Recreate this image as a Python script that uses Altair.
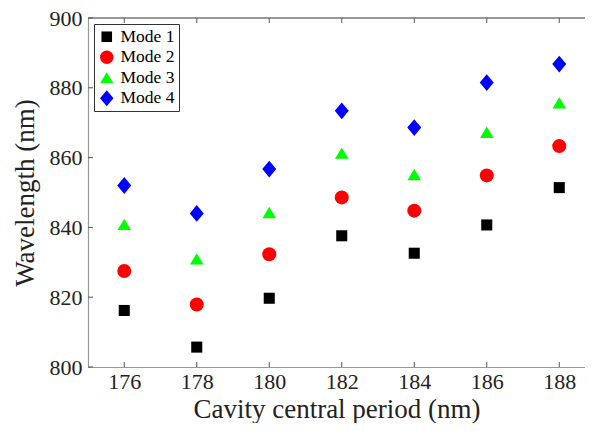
import altair as alt
import pandas as pd

periods = [176, 178, 180, 182, 184, 186, 188]
mode1 = [816.2, 805.7, 819.7, 837.6, 832.6, 840.7, 851.4]
mode2 = [827.5, 817.9, 832.3, 848.6, 844.8, 854.9, 863.3]
mode3 = [840.8, 830.9, 844.2, 861.2, 855.1, 867.2, 875.6]
mode4 = [852.0, 844.0, 856.7, 873.4, 868.6, 881.5, 886.8]
modes = ["Mode 1", "Mode 2", "Mode 3", "Mode 4"]
colors = ["#000000", "#ff0000", "#00ff00", "#0000ff"]
shapes = [
    "M-0.79,-0.79L0.79,-0.79L0.79,0.79L-0.79,0.79Z",
    "circle",
    "M0,-0.85L0.97,0.78L-0.97,0.78Z",
    "M0,-1.2L1,0L0,1.2L-1,0Z",
]
x_ticks = [176, 178, 180, 182, 184, 186, 188]
y_ticks = [800, 820, 840, 860, 880, 900]

rows = []
for name, vals in zip(modes, [mode1, mode2, mode3, mode4]):
    for p, v in zip(periods, vals):
        rows.append({"period": p, "wavelength": v, "mode": name})
df = pd.DataFrame(rows)

W, H = 497, 349
FONT = "Liberation Serif"
xscale = alt.Scale(domain=[175, 188.71], nice=False, zero=False)
yscale = alt.Scale(domain=[800, 900], nice=False, zero=False)

points = alt.Chart(df).mark_point(filled=True, size=196, opacity=1, strokeWidth=0).encode(
    x=alt.X("period:Q", scale=xscale,
            axis=alt.Axis(values=x_ticks, title="Cavity central period (nm)", grid=False,
                          tickSize=0, labelPadding=4, format="d",
                          titleBaseline="alphabetic", titleY=50)),
    y=alt.Y("wavelength:Q", scale=yscale,
            axis=alt.Axis(values=y_ticks, title="Wavelength (nm)", grid=False,
                          tickSize=0, labelPadding=6, format="d",
                          titleBaseline="alphabetic", titleX=-55)),
    color=alt.Color("mode:N", scale=alt.Scale(domain=modes, range=colors),
                    legend=alt.Legend(title=None, orient="none", legendX=6, legendY=6)),
    shape=alt.Shape("mode:N", scale=alt.Scale(domain=modes, range=shapes), legend=None),
)

xt = pd.DataFrame({"t": x_ticks})
yt = pd.DataFrame({"t": y_ticks})
tick_color = "#555555"
xb = alt.Chart(xt).mark_rule(color=tick_color, strokeWidth=1).encode(
    x=alt.X("t:Q", scale=xscale), y=alt.value(H), y2=alt.value(H - 5))
xtop = alt.Chart(xt).mark_rule(color=tick_color, strokeWidth=1).encode(
    x=alt.X("t:Q", scale=xscale), y=alt.value(0), y2=alt.value(5))
yl = alt.Chart(yt).mark_rule(color=tick_color, strokeWidth=1).encode(
    y=alt.Y("t:Q", scale=yscale), x=alt.value(0), x2=alt.value(5))
frame_top = alt.Chart(xt).mark_rule(color="#999999", strokeWidth=1.2).encode(
    x=alt.value(0), x2=alt.value(W), y=alt.value(0))

chart = alt.layer(frame_top, xb, xtop, yl, points).properties(
    width=W, height=H,
    autosize=alt.AutoSizeParams(type="none"),
    padding={"left": 80, "top": 10, "right": 0, "bottom": 56},
).configure_view(stroke=None).configure_axis(
    labelFont=FONT, titleFont=FONT, labelFontSize=22, titleFontSize=27,
    labelColor="#222222", titleColor="#222222", titleFontWeight="normal",
    domainColor="#999999", domainWidth=1.2,
).configure_legend(
    labelFont=FONT, labelFontSize=17.5, labelColor="#000000",
    strokeColor="#333333", fillColor="#ffffff", padding=4,
    symbolSize=180, symbolStrokeWidth=0, rowPadding=1.5, labelOffset=5,
    cornerRadius=0,
)

chart.save("out.html", embed_options={"renderer": "svg", "actions": False})
